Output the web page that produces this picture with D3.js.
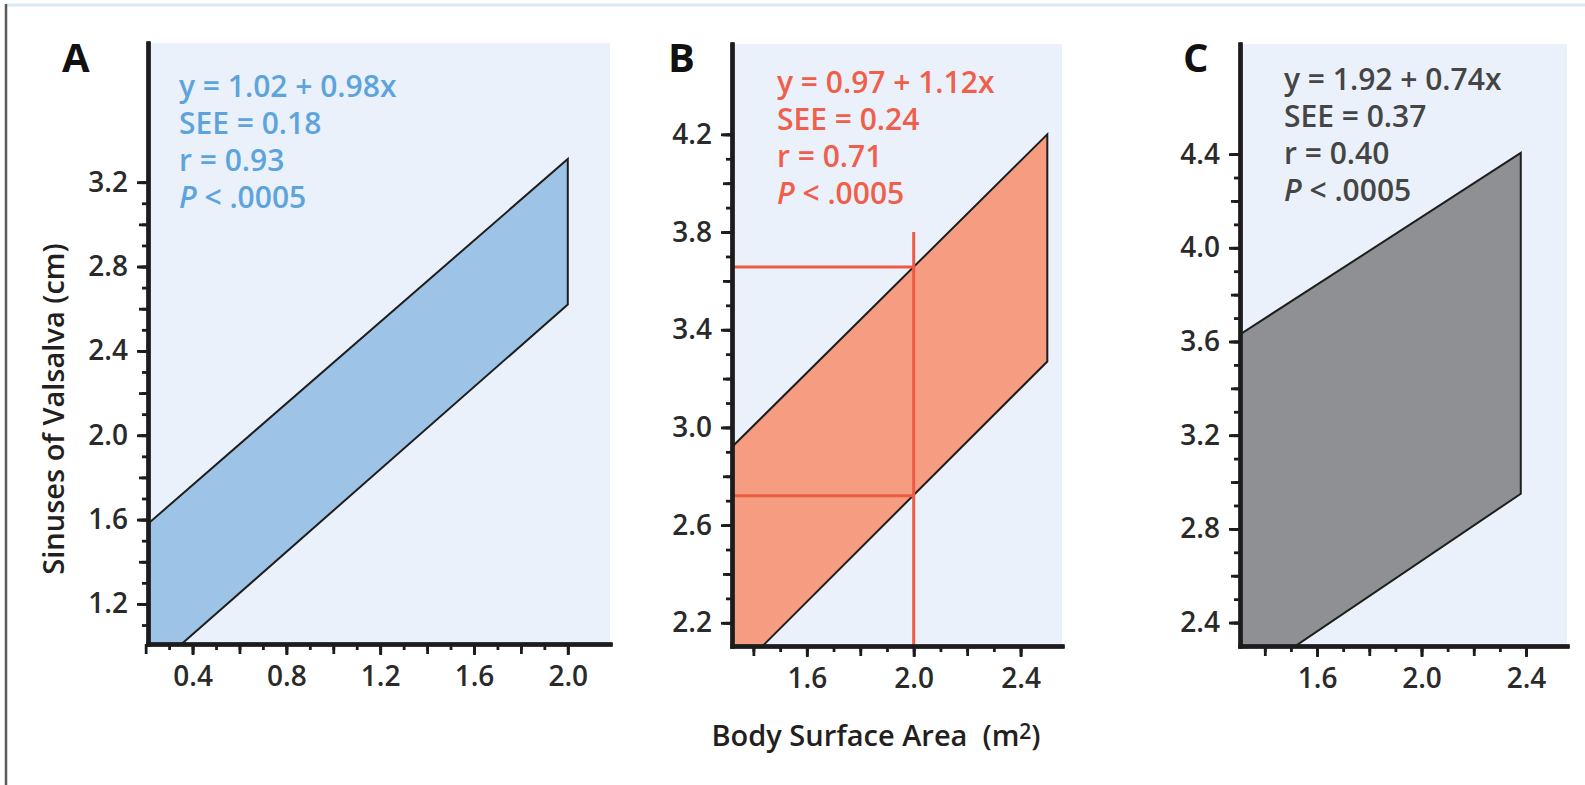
<!DOCTYPE html>
<html>
<head>
<meta charset="utf-8">
<script src="https://cdn.jsdelivr.net/npm/d3@7"></script>
<style>
  body { margin: 0; background: #fff; }
  svg { display: block; font-family: "Open Sans", sans-serif; }
  .axis .domain { stroke: #1c1c1c; stroke-width: 4; stroke-linecap: square; }
  .axis line { stroke: #1c1c1c; stroke-width: 2.8; }
  .axis text { font-family: "Open Sans", sans-serif; font-size: 28px; font-weight: 600; fill: #2a2a2a; }
</style>
</head>
<body>
<div id="graph"></div>
<script>
// panel letters
var panelNames = ["A", "B", "C"];

// visible axis ranges (BSA in m2, sinus diameter in cm)
var xRangeA = [0.21, 2.18], yRangeA = [1.01, 3.86];
var xRangeB = [1.32, 2.555], yRangeB = [2.105, 4.57];
var xRangeC = [1.305, 2.557], yRangeC = [2.30, 4.87];

// labelled ticks
var xTicksA = [0.4, 0.8, 1.2, 1.6, 2.0], yTicksA = [1.2, 1.6, 2.0, 2.4, 2.8, 3.2];
var xTicksB = [1.6, 2.0, 2.4], yTicksB = [2.2, 2.6, 3.0, 3.4, 3.8, 4.2];
var xTicksC = [1.6, 2.0, 2.4], yTicksC = [2.4, 2.8, 3.2, 3.6, 4.0, 4.4];

// span covered by the small ticks
var xMinorA = [0.3, 2.0], yMinorA = [1.1, 3.2];
var xMinorB = [1.4, 2.4], yMinorB = [2.2, 4.2];
var xMinorC = [1.4, 2.4], yMinorC = [2.4, 4.4];

// prediction bands: BSA at both ends, upper and lower limit
var bsaA = [0.21, 2.0], upperA = [1.58, 3.31], lowerA = [0.87, 2.62];
var bsaB = [1.32, 2.5], upperB = [2.92, 4.20], lowerB = [1.98, 3.27];
var bsaC = [1.305, 2.38], upperC = [3.63, 4.405], lowerC = [2.14, 2.95];

// regression stats
var equations = ["y = 1.02 + 0.98x", "y = 0.97 + 1.12x", "y = 1.92 + 0.74x"];
var seeValues = ["0.18", "0.24", "0.37"];
var rValues = ["0.93", "0.71", "0.40"];
var pValues = [".0005", ".0005", ".0005"];

// reading lines in panel B (BSA 2.0)
var refBsa = 2.0, refTop = 3.8, refLimits = [3.657, 2.72];

// layout
var width = 1585, height = 785;
var boxes = [
  {left: 148, right: 610, top: 43, bottom: 644, letterX: 62, textX: 31, textY: 97},
  {left: 732, right: 1062, top: 44, bottom: 646, letterX: 668, textX: 45, textY: 93},
  {left: 1240, right: 1567, top: 44, bottom: 646, letterX: 1183, textX: 44, textY: 90}
];
var fills = ["#9dc3e6", "#f69c81", "#8f9094"];
var textColors = ["#5ea4dc", "#ef5f4b", "#454545"];

var panels = [
  {x: xRangeA, y: yRangeA, xt: xTicksA, yt: yTicksA, xm: xMinorA, ym: yMinorA, bsa: bsaA, up: upperA, lo: lowerA},
  {x: xRangeB, y: yRangeB, xt: xTicksB, yt: yTicksB, xm: xMinorB, ym: yMinorB, bsa: bsaB, up: upperB, lo: lowerB},
  {x: xRangeC, y: yRangeC, xt: xTicksC, yt: yTicksC, xm: xMinorC, ym: yMinorC, bsa: bsaC, up: upperC, lo: lowerC}
];

var svg = d3.select("#graph")
  .append("svg")
  .attr("width", width)
  .attr("height", height);

// page frame
svg.append("line")
  .attr("x1", 6).attr("x2", width).attr("y1", 5).attr("y2", 5)
  .style("stroke", "#dce8f6").style("stroke-width", 3);
svg.append("line")
  .attr("x1", 6).attr("x2", 6).attr("y1", 4).attr("y2", height)
  .style("stroke", "#5a5a5a").style("stroke-width", 2.5);

function steps(span, step) {
  return d3.range(Math.round(span[0] / step), Math.round(span[1] / step) + 1)
    .map(function(i) { return +(i * step).toFixed(2); });
}

panels.forEach(function(p, i) {
  var b = boxes[i];
  var x = d3.scaleLinear().domain(p.x).range([b.left, b.right]);
  var y = d3.scaleLinear().domain(p.y).range([b.bottom, b.top]);
  var g = svg.append("g");

  // background
  g.append("rect")
    .attr("x", b.left).attr("y", b.top)
    .attr("width", b.right - b.left).attr("height", b.bottom - b.top)
    .style("fill", "#eaf1fa");

  g.append("clipPath").attr("id", "clip" + i)
    .append("rect")
    .attr("x", b.left).attr("y", b.top)
    .attr("width", b.right - b.left).attr("height", b.bottom - b.top);

  // band
  var corners = [[p.bsa[0], p.up[0]], [p.bsa[1], p.up[1]], [p.bsa[1], p.lo[1]], [p.bsa[0], p.lo[0]]];
  g.append("path")
    .datum(corners)
    .attr("clip-path", "url(#clip" + i + ")")
    .attr("d", d3.line().x(function(d) { return x(d[0]); }).y(function(d) { return y(d[1]); }).curve(d3.curveLinearClosed))
    .style("fill", fills[i])
    .style("stroke", "#1e1e1e")
    .style("stroke-width", 2)
    .style("stroke-linejoin", "miter");

  // reading lines for panel B
  if (i === 1) {
    g.append("line")
      .attr("x1", x(refBsa)).attr("x2", x(refBsa))
      .attr("y1", y(p.y[0])).attr("y2", y(refTop))
      .style("stroke", "#ef5a45").style("stroke-width", 3);
    g.selectAll(".ref")
      .data(refLimits)
      .enter().append("line")
      .attr("x1", x(p.x[0])).attr("x2", x(refBsa))
      .attr("y1", function(d) { return y(d); })
      .attr("y2", function(d) { return y(d); })
      .style("stroke", "#ef5a45").style("stroke-width", 3);
  }

  // x axis: small, medium and labelled ticks
  g.append("g").attr("class", "axis").attr("transform", "translate(0," + b.bottom + ")")
    .call(d3.axisBottom(x).tickValues(steps(p.xm, 0.1)).tickSize(6).tickSizeOuter(0).tickFormat(""));
  g.append("g").attr("class", "axis").attr("transform", "translate(0," + b.bottom + ")")
    .call(d3.axisBottom(x).tickValues(steps(p.xm, 0.2)).tickSize(10).tickSizeOuter(0).tickFormat(""));
  g.append("g").attr("class", "axis").attr("transform", "translate(0," + b.bottom + ")")
    .call(d3.axisBottom(x).tickValues(p.xt).tickSize(11).tickSizeOuter(0).tickPadding(11).tickFormat(d3.format(".1f")));

  // y axis
  g.append("g").attr("class", "axis").attr("transform", "translate(" + b.left + ",0)")
    .call(d3.axisLeft(y).tickValues(steps(p.ym, 0.1)).tickSize(6).tickSizeOuter(0).tickFormat(""));
  g.append("g").attr("class", "axis").attr("transform", "translate(" + b.left + ",0)")
    .call(d3.axisLeft(y).tickValues(steps(p.ym, 0.2)).tickSize(9).tickSizeOuter(0).tickFormat(""));
  g.append("g").attr("class", "axis").attr("transform", "translate(" + b.left + ",0)")
    .call(d3.axisLeft(y).tickValues(p.yt).tickSize(11).tickSizeOuter(0).tickPadding(9).tickFormat(d3.format(".1f")));

  // panel letter
  g.append("text")
    .attr("x", b.letterX).attr("y", 72)
    .style("font-size", "40px").style("font-weight", "bold").style("fill", "#111")
    .text(panelNames[i]);

  // stats block
  var lines = [equations[i], "SEE = " + seeValues[i], "r = " + rValues[i]];
  var stats = g.append("text")
    .attr("x", b.left + b.textX).attr("y", b.textY)
    .style("font-size", "30px").style("font-weight", 600).style("fill", textColors[i]);
  lines.forEach(function(t, k) {
    stats.append("tspan").attr("x", b.left + b.textX).attr("dy", k ? 37 : 0).text(t);
  });
  stats.append("tspan").attr("x", b.left + b.textX).attr("dy", 37)
    .style("font-style", "italic").text("P");
  stats.append("tspan").text(" < " + pValues[i]);
});

// axis titles
svg.append("text")
  .attr("transform", "translate(64,409) rotate(-90)")
  .attr("text-anchor", "middle")
  .style("font-size", "29px").style("font-weight", 600).style("fill", "#231f20")
  .text("Sinuses of Valsalva (cm)");

var xt = svg.append("text")
  .attr("x", 876).attr("y", 746)
  .attr("text-anchor", "middle")
  .style("font-size", "29px").style("font-weight", 600).style("fill", "#231f20")
  .attr("xml:space", "preserve");
xt.append("tspan").text("Body Surface Area  (m");
xt.append("tspan").attr("dy", -7).style("font-size", "21px").text("2");
xt.append("tspan").attr("dy", 7).text(")");
</script>
</body>
</html>
